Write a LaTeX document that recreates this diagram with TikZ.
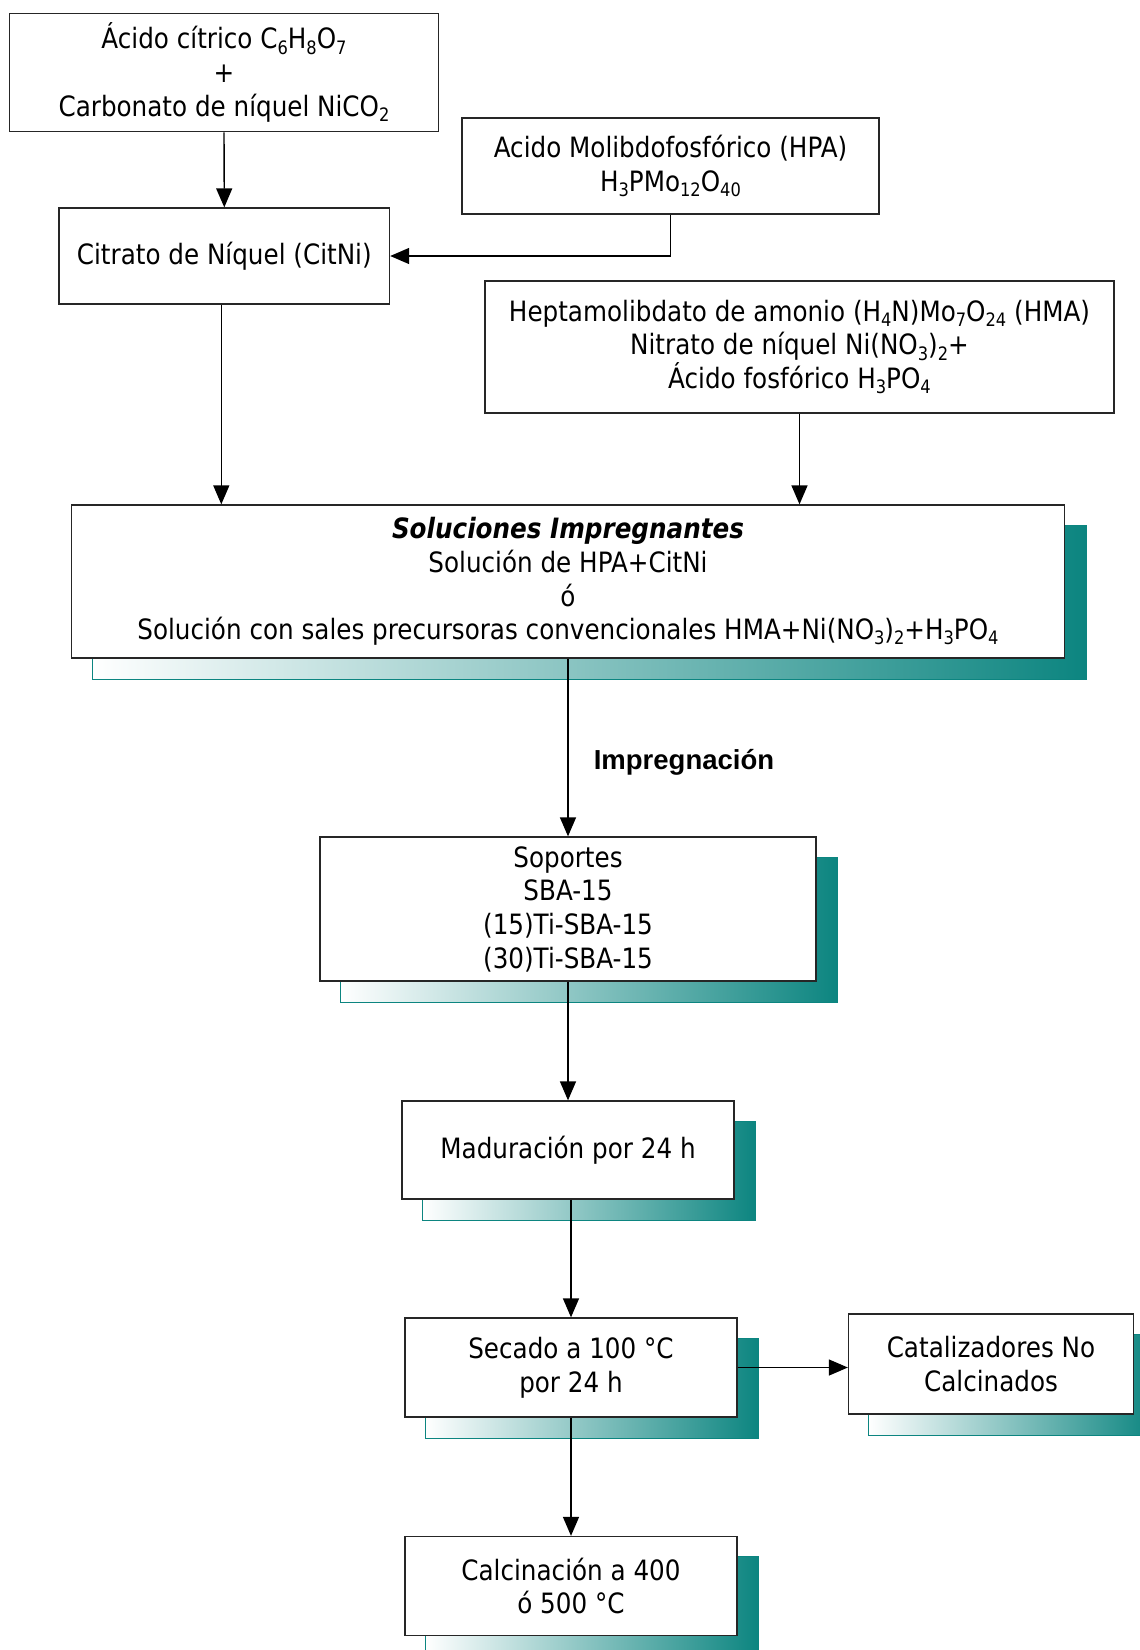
\documentclass[tikz,border=0pt]{standalone}
\usepackage{fontspec}
\setmainfont{DejaVu Sans}[FakeStretch=0.88]
\newfontfamily\arialfont{Liberation Sans}
\usetikzlibrary{arrows.meta,calc,backgrounds}
\definecolor{tealsh}{RGB}{12,133,128}
\newcommand\sbs[1]{\raisebox{-0.18em}{\fontsize{18.5}{18.5}\selectfont #1}}
\newcommand\shadowof[1]{%
  \shade[left color=white,right color=tealsh] ($(#1.south west)+(21,21)$) rectangle ($(#1.north east)+(21,21)$);
  \draw[tealsh,line width=1.2pt] ($(#1.south west)+(21,21)$) rectangle ($(#1.north east)+(21,21)$);}
\begin{document}
\begin{tikzpicture}[x=1pt,y=-1pt,
  box/.style={draw=black!85,line width=1.3pt,fill=white,inner sep=0pt,align=center,
    font=\fontsize{28}{33.7}\selectfont},
  conn/.style={draw=black,line width=1.4pt,-{Triangle[length=19pt,width=16pt]}}]
\useasboundingbox (0,0) rectangle (1140,1650);
\node[box,minimum width=429.5pt,minimum height=118pt] (b1) at (224,72.6)
  {Ácido cítrico C\sbs{6}H\sbs{8}O\sbs{7}\\+\\Carbonato de níquel NiCO\sbs{2}};
\node[box,minimum width=330.5pt,minimum height=96pt] (cit) at (224.3,256)
  {Citrato de Níquel (CitNi)};
\node[box,minimum width=417pt,minimum height=96pt] (hpa) at (670.5,166)
  {Acido Molibdofosfórico (HPA)\\H\sbs{3}PMo\sbs{12}O\sbs{40}};
\node[box,minimum width=629pt,minimum height=132pt] (hma) at (799.5,347)
  {Heptamolibdato de amonio (H\sbs{4}N)Mo\sbs{7}O\sbs{24} (HMA)\\Nitrato de níquel Ni(NO\sbs{3})\sbs{2}+\\Ácido fosfórico H\sbs{3}PO\sbs{4}};
\node[box,minimum width=992.5pt,minimum height=153pt] (sol) at (568,581.5)
  {\textbf{\textit{Soluciones Impregnantes}}\\Solución de HPA+CitNi\\ó\\Solución con sales precursoras convencionales HMA+Ni(NO\sbs{3})\sbs{2}+H\sbs{3}PO\sbs{4}};
\node[box,minimum width=496pt,minimum height=144pt] (sop) at (568,909)
  {Soportes\\SBA-15\\(15)Ti-SBA-15\\(30)Ti-SBA-15};
\node[box,minimum width=332pt,minimum height=98pt] (mad) at (568,1150)
  {Maduración por 24 h};
\node[box,minimum width=332pt,minimum height=99pt] (sec) at (571,1367.5)
  {Secado a 100 °C\\por 24 h};
\node[box,minimum width=285pt,minimum height=100pt] (cat) at (991,1364)
  {Catalizadores No\\Calcinados};
\node[box,minimum width=332pt,minimum height=99pt] (calc) at (571,1586)
  {Calcinación a 400\\ó 500 °C};
\node[font=\arialfont\bfseries\fontsize{27.5}{31}\selectfont] (lab) at (684,762) {Impregnación};
\begin{scope}[on background layer]
  \shadowof{sol}\shadowof{sop}\shadowof{mad}\shadowof{sec}\shadowof{cat}\shadowof{calc}
\end{scope}
\draw[conn] (b1.south) -- (cit.north);
\draw[conn] (hpa.south) |- (cit.east);
\draw[conn] ([xshift=-3pt]cit.south) -- ([xshift=-3pt]cit.south |- sol.north);
\draw[conn] (hma.south) -- (hma.south |- sol.north);
\draw[conn] (sol.south) -- (sop.north);
\draw[conn] (sop.south) -- (mad.north);
\draw[conn] (sec.north |- mad.south) -- (sec.north);
\draw[conn] (sec.east) -- (sec.east -| cat.west);
\draw[conn] (sec.south) -- (calc.north);
\end{tikzpicture}
\end{document}
